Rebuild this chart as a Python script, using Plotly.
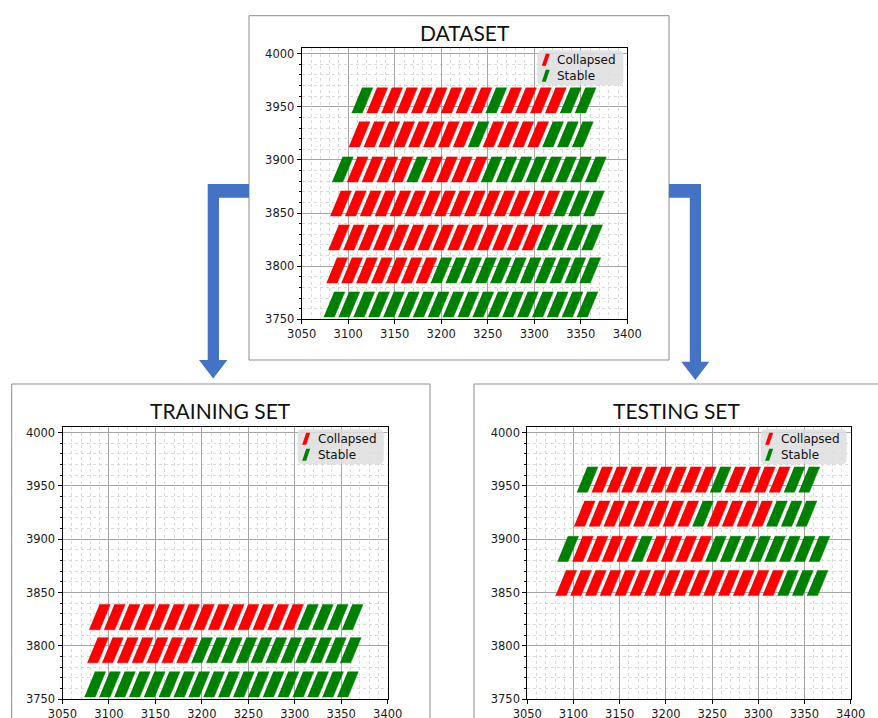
import plotly.graph_objects as go

W, H = 878, 718

# ---------------- data ----------------
# Each row: y centre, stripe x centres, status per stripe (C = Collapsed, S = Stable)
row_a_y = 3764
row_a_x = [3085, 3101, 3117, 3133, 3149, 3165, 3181, 3197, 3213, 3229, 3245, 3261, 3277, 3293, 3309, 3325, 3341, 3357]
row_a_status = ["S"] * 18

row_b_y = 3796
row_b_x = [3088, 3104, 3120, 3136, 3152, 3168, 3184, 3200, 3216, 3232, 3248, 3264, 3280, 3296, 3312, 3328, 3344, 3360]
row_b_status = ["C", "C", "C", "C", "C", "C", "C", "S", "S", "S", "S", "S", "S", "S", "S", "S", "S", "S"]

row_c_y = 3827
row_c_x = [3090, 3106, 3122, 3138, 3154, 3170, 3186, 3202, 3218, 3234, 3250, 3266, 3282, 3298, 3314, 3330, 3346, 3362]
row_c_status = ["C", "C", "C", "C", "C", "C", "C", "C", "C", "C", "C", "C", "C", "C", "S", "S", "S", "S"]

row_d_y = 3859
row_d_x = [3092, 3108, 3124, 3140, 3156, 3172, 3188, 3204, 3220, 3236, 3252, 3268, 3284, 3300, 3316, 3332, 3348, 3364]
row_d_status = ["C", "C", "C", "C", "C", "C", "C", "C", "C", "C", "C", "C", "C", "C", "C", "S", "S", "S"]

row_e_y = 3891
row_e_x = [3094, 3110, 3126, 3142, 3158, 3174, 3190, 3206, 3222, 3238, 3254, 3270, 3286, 3302, 3318, 3334, 3350, 3366]
row_e_status = ["S", "C", "C", "C", "C", "S", "C", "C", "C", "C", "S", "S", "S", "S", "S", "S", "S", "S"]

row_f_y = 3924
row_f_x = [3112, 3128, 3144, 3160, 3176, 3192, 3208, 3224, 3240, 3256, 3272, 3288, 3304, 3320, 3336, 3352]
row_f_status = ["C", "C", "C", "C", "C", "C", "C", "C", "S", "C", "C", "C", "C", "S", "S", "S"]

row_g_y = 3956
row_g_x = [3115, 3131, 3147, 3163, 3179, 3195, 3211, 3227, 3243, 3259, 3275, 3291, 3307, 3323, 3339, 3355]
row_g_status = ["S", "C", "C", "C", "C", "C", "C", "C", "C", "S", "C", "C", "C", "C", "S", "S"]

x_ticks = [3050, 3100, 3150, 3200, 3250, 3300, 3350, 3400]
y_ticks = [3750, 3800, 3850, 3900, 3950, 4000]

panel_titles = ["DATASET", "TRAINING SET", "TESTING SET"]
class_order = ["C", "S"]
class_names = {"C": "Collapsed", "S": "Stable"}

# ---------------- styles ----------------
RED = "#ff0000"
GREEN = "#008000"
class_colors = {"C": RED, "S": GREEN}
HALF_W = 5.8      # half horizontal thickness of a stripe (x units)
HALF_SHIFT = 5.6  # half horizontal slant of a stripe (x units)
HALF_H = 11.8     # half height of a stripe (y units)

rows_all = [
    (row_a_y, row_a_x, row_a_status),
    (row_b_y, row_b_x, row_b_status),
    (row_c_y, row_c_x, row_c_status),
    (row_d_y, row_d_x, row_d_status),
    (row_e_y, row_e_x, row_e_status),
    (row_f_y, row_f_x, row_f_status),
    (row_g_y, row_g_x, row_g_status),
]
rows_train = rows_all[:3]
rows_test = rows_all[3:]


def px_x(p):
    return p / W


def px_y(p):
    return 1 - p / H


def stripe_polys(rows, status):
    xs, ys = [], []
    for y, xlist, stats in rows:
        for x, s in zip(xlist, stats):
            if s != status:
                continue
            xs += [x - HALF_W - HALF_SHIFT, x + HALF_W - HALF_SHIFT,
                   x + HALF_W + HALF_SHIFT, x - HALF_W + HALF_SHIFT, None]
            ys += [y - HALF_H, y - HALF_H, y + HALF_H, y + HALF_H, None]
    return xs, ys


fig = go.Figure()

panels = [
    # rows, axis suffix, x px domain, y px domain (top, bottom)
    (rows_all, "", (301.7, 627.3), (48.3, 319.3)),
    (rows_train, "2", (62.5, 387.7), (427.3, 699.3)),
    (rows_test, "3", (527.3, 850.7), (427.3, 699.3)),
]

for rows, suf, xd, yd in panels:
    for status in class_order:
        xs, ys = stripe_polys(rows, status)
        fig.add_trace(go.Scatter(
            x=xs, y=ys, mode="lines", fill="toself", name=class_names[status],
            fillcolor=class_colors[status],
            line=dict(color=class_colors[status], width=0.5),
            hoverinfo="skip", showlegend=False, xaxis="x" + suf, yaxis="y" + suf))

axis_font = dict(family="DejaVu Sans", size=11.5, color="#1a1a1a")
MINOR_GRID = "#dadada"


def xaxis_cfg(xd, anchor):
    return dict(domain=[px_x(xd[0]), px_x(xd[1])], anchor=anchor, automargin=False,
                range=[3050, 3400], tickmode="array", tickvals=x_ticks,
                showline=True, linecolor="black", linewidth=1, mirror=True,
                ticks="outside", ticklen=4, tickcolor="black",
                showgrid=True, gridcolor="#a6a6a6", gridwidth=1,
                minor=dict(dtick=10, tick0=3050, showgrid=True,
                           gridcolor=MINOR_GRID, griddash="dot", gridwidth=1),
                zeroline=False, tickfont=axis_font, fixedrange=True)


def yaxis_cfg(yd, anchor):
    return dict(domain=[px_y(yd[1]), px_y(yd[0])], anchor=anchor, automargin=False,
                range=[3750, 4005], tickmode="array", tickvals=y_ticks,
                showline=True, linecolor="black", linewidth=1, mirror=True,
                ticks="outside", ticklen=4, tickcolor="black",
                showgrid=True, gridcolor="#a6a6a6", gridwidth=1,
                minor=dict(dtick=10, tick0=3750, showgrid=True, ticks="outside",
                           ticklen=2, tickcolor="black",
                           gridcolor=MINOR_GRID, griddash="dot", gridwidth=1),
                zeroline=False, tickfont=axis_font, fixedrange=True)


layout = dict(width=W, height=H, autosize=False, template="none", showlegend=False,
              margin=dict(l=0, r=0, t=0, b=0, pad=0),
              paper_bgcolor="white", plot_bgcolor="white")

for rows, suf, xd, yd in panels:
    layout["xaxis" + suf] = xaxis_cfg(xd, "y" + suf)
    layout["yaxis" + suf] = yaxis_cfg(yd, "x" + suf)

fig.update_layout(**layout)


def path_from(pts, close=True):
    s = "M " + " L ".join(f"{px_x(a):.5f},{px_y(b):.5f}" for a, b in pts)
    return s + (" Z" if close else "")


def rounded_rect(x0, y0, x1, y1, r):
    rx, ry = r / W, r / H
    X0, X1 = px_x(x0), px_x(x1)
    Y0, Y1 = px_y(y0), px_y(y1)  # Y0 top, Y1 bottom in paper coords
    return (f"M {X0 + rx:.5f},{Y0:.5f} L {X1 - rx:.5f},{Y0:.5f} Q {X1:.5f},{Y0:.5f} {X1:.5f},{Y0 - ry:.5f} "
            f"L {X1:.5f},{Y1 + ry:.5f} Q {X1:.5f},{Y1:.5f} {X1 - rx:.5f},{Y1:.5f} "
            f"L {X0 + rx:.5f},{Y1:.5f} Q {X0:.5f},{Y1:.5f} {X0:.5f},{Y1 + ry:.5f} "
            f"L {X0:.5f},{Y0 - ry:.5f} Q {X0:.5f},{Y0:.5f} {X0 + rx:.5f},{Y0:.5f} Z")


# legends (one per panel, upper right inside the plot)
LEG_W, LEG_H = 86, 35
for rows, suf, xd, yd in panels:
    bx1 = xd[1] - 4
    bx0 = bx1 - LEG_W
    by0 = yd[0] + 2
    by1 = by0 + LEG_H
    fig.add_shape(type="path", xref="paper", yref="paper",
                  path=rounded_rect(bx0, by0, bx1, by1, 5),
                  fillcolor="rgba(222,222,222,0.85)", line=dict(width=0), layer="above")
    for i, status in enumerate(class_order):
        cy = by0 + 9.5 + 16 * i
        gx = bx0 + 8
        fig.add_shape(type="path", xref="paper", yref="paper",
                      path=path_from([(gx - 3.5, cy + 6), (gx + 0.5, cy + 6),
                                      (gx + 4.5, cy - 6), (gx + 0.5, cy - 6)]),
                      fillcolor=class_colors[status], line=dict(width=0), layer="above")
        fig.add_annotation(text=class_names[status], xref="paper", yref="paper",
                           x=px_x(bx0 + 18), y=px_y(cy), xanchor="left", yanchor="middle",
                           showarrow=False,
                           font=dict(family="DejaVu Sans", size=12, color="#111"))

# panel frames
frames = [(249, 15.7, 669, 360), (11.7, 384, 430, 730), (474, 384, 890, 730)]
for x0, y0, x1, y1 in frames:
    fig.add_shape(type="rect", xref="paper", yref="paper",
                  x0=px_x(x0), x1=px_x(x1), y0=px_y(y1), y1=px_y(y0),
                  line=dict(color="#8c8c8c", width=1), fillcolor="rgba(0,0,0,0)",
                  layer="below")

# titles
titles_pos = [(465, 33), (220, 410), (676, 410)]
for t, (tx, ty) in zip(panel_titles, titles_pos):
    fig.add_annotation(text=t, xref="paper", yref="paper", x=px_x(tx), y=px_y(ty),
                       xanchor="center", yanchor="middle", showarrow=False,
                       font=dict(family="Lato", size=21, color="#111"))

# blue arrows
left_arrow = [(249, 184), (207.7, 184), (207.7, 360), (199, 360), (213.2, 378.5),
              (227.4, 360), (219, 360), (219, 197.7), (249, 197.7)]
right_arrow = [(669, 184), (701, 184), (701, 361.7), (709.3, 361.7), (695.3, 380),
               (681.3, 361.7), (689.8, 361.7), (689.8, 197.7), (669, 197.7)]
for pts in (left_arrow, right_arrow):
    fig.add_shape(type="path", xref="paper", yref="paper", path=path_from(pts),
                  fillcolor="#4472c4", line=dict(width=0))

fig.write_html("out.html", config={"displayModeBar": False},
               post_script="document.body.style.margin='0px';document.body.style.overflow='hidden';")
